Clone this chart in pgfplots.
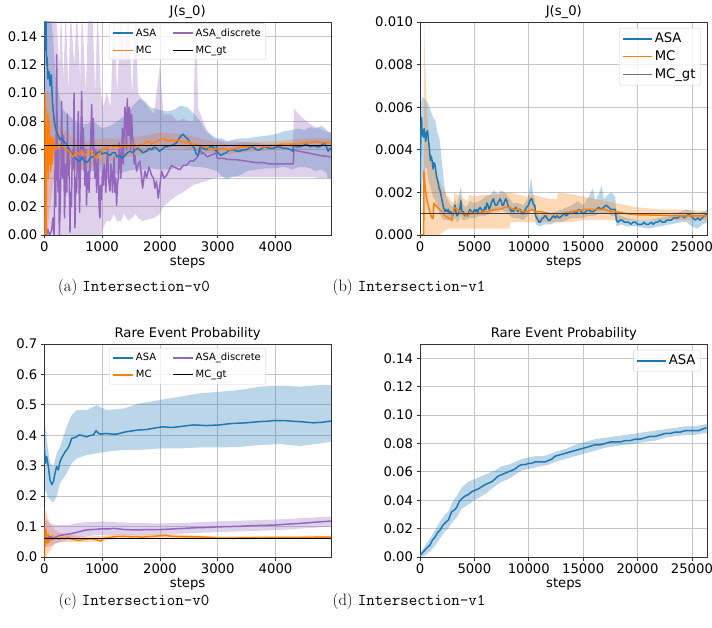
\documentclass[border=0pt]{standalone}
\usepackage{fontspec}
\usepackage{pgfplots}
\pgfplotsset{compat=1.18}
\usepackage{pgfplotstable}
\usepgfplotslibrary{fillbetween}
\newfontfamily\dejavu{DejaVu Sans}
\definecolor{mplblue}{HTML}{1F77B4}
\definecolor{mplorange}{HTML}{FF7F0E}
\definecolor{mplpurple}{HTML}{9467BD}
\newcommand{\tickfont}{\dejavu\fontsize{13.2}{15}\selectfont}
\newcommand{\legS}{\dejavu\fontsize{10}{12}\selectfont}
\newcommand{\legL}{\dejavu\fontsize{13.2}{15}\selectfont}

% ---------- (a) J(s_0), Intersection-v0 ----------
\pgfplotstableread[row sep=\\]{x y\\
0 0.16\\ 10 0.145\\ 20 0.13\\ 30 0.15\\ 40 0.12\\ 50 0.125\\ 60 0.11\\ 80 0.115\\ 100 0.105\\ 120 0.113\\ 140 0.095\\ 160 0.085\\ 180 0.078\\ 200 0.074\\ 230 0.071\\ 271 0.067\\ 300 0.068\\ 358 0.065\\ 400 0.063\\ 444 0.059\\ 502 0.056\\ 540 0.054\\ 560 0.053\\ 617 0.052\\ 650 0.055\\ 675 0.053\\ 733 0.051\\ 760 0.052\\ 790 0.054\\ 830 0.055\\ 877 0.056\\ 920 0.058\\ 963 0.059\\ 1000 0.057\\ 1050 0.058\\ 1100 0.057\\ 1136 0.056\\ 1180 0.058\\ 1222 0.058\\ 1260 0.055\\ 1300 0.056\\ 1350 0.054\\ 1395 0.056\\ 1440 0.058\\ 1482 0.059\\ 1530 0.058\\ 1568 0.060\\ 1610 0.061\\ 1655 0.060\\ 1700 0.058\\ 1770 0.059\\ 1810 0.061\\ 1857 0.060\\ 1900 0.062\\ 1943 0.061\\ 1990 0.059\\ 2030 0.060\\ 2080 0.062\\ 2116 0.062\\ 2170 0.063\\ 2200 0.063\\ 2250 0.064\\ 2289 0.065\\ 2330 0.068\\ 2370 0.070\\ 2404 0.071\\ 2440 0.069\\ 2480 0.068\\ 2519 0.065\\ 2560 0.063\\ 2600 0.061\\ 2630 0.057\\ 2663 0.056\\ 2700 0.063\\ 2750 0.061\\ 2807 0.060\\ 2860 0.062\\ 2920 0.062\\ 2970 0.059\\ 2980 0.063\\ 3000 0.058\\ 3050 0.056\\ 3096 0.057\\ 3153 0.058\\ 3200 0.060\\ 3270 0.060\\ 3326 0.059\\ 3384 0.059\\ 3440 0.060\\ 3499 0.060\\ 3560 0.062\\ 3614 0.062\\ 3670 0.060\\ 3730 0.060\\ 3800 0.062\\ 3845 0.062\\ 3900 0.061\\ 3960 0.061\\ 4020 0.062\\ 4075 0.062\\ 4140 0.061\\ 4200 0.061\\ 4260 0.060\\ 4306 0.059\\ 4310 0.063\\ 4370 0.062\\ 4420 0.062\\ 4480 0.063\\ 4540 0.064\\ 4600 0.062\\ 4660 0.063\\ 4720 0.062\\ 4768 0.062\\ 4820 0.064\\ 4850 0.065\\ 4880 0.062\\ 4910 0.059\\ 4940 0.061\\ 4960 0.060\\
}\aASA
\pgfplotstableread[row sep=\\]{x lo hi\\
0 0.09 0.16\\ 50 0.08 0.16\\ 100 0.07 0.16\\ 150 0.06 0.14\\ 200 0.055 0.11\\ 300 0.052 0.09\\ 400 0.050 0.085\\ 540 0.048 0.080\\ 700 0.045 0.078\\ 850 0.045 0.080\\ 1000 0.045 0.075\\ 1150 0.044 0.077\\ 1260 0.043 0.080\\ 1430 0.045 0.085\\ 1550 0.046 0.092\\ 1660 0.046 0.096\\ 1750 0.046 0.094\\ 1830 0.047 0.090\\ 2000 0.046 0.088\\ 2120 0.046 0.087\\ 2240 0.047 0.088\\ 2350 0.048 0.091\\ 2470 0.049 0.090\\ 2600 0.048 0.085\\ 2700 0.048 0.080\\ 2820 0.047 0.072\\ 2990 0.045 0.068\\ 3080 0.041 0.068\\ 3160 0.039 0.066\\ 3250 0.041 0.067\\ 3390 0.042 0.068\\ 3500 0.045 0.068\\ 3650 0.046 0.069\\ 3860 0.047 0.070\\ 4000 0.047 0.071\\ 4150 0.048 0.073\\ 4300 0.046 0.074\\ 4390 0.048 0.075\\ 4500 0.048 0.074\\ 4600 0.047 0.076\\ 4690 0.045 0.075\\ 4800 0.046 0.077\\ 4880 0.044 0.074\\ 4900 0.040 0.073\\ 4960 0.040 0.072\\
}\aASAband
\pgfplotstableread[row sep=\\]{x y\\
0 0.0\\ 8 0.10\\ 16 0.03\\ 24 0.09\\ 32 0.0\\ 40 0.075\\ 50 0.045\\ 60 0.085\\ 70 0.04\\ 80 0.08\\ 90 0.05\\ 100 0.07\\ 110 0.045\\ 125 0.068\\ 140 0.05\\ 160 0.068\\ 180 0.062\\ 200 0.060\\ 250 0.064\\ 300 0.063\\ 350 0.061\\ 400 0.060\\ 450 0.058\\ 500 0.055\\ 550 0.058\\ 600 0.057\\ 650 0.059\\ 700 0.056\\ 750 0.058\\ 800 0.059\\ 850 0.057\\ 900 0.054\\ 950 0.057\\ 1000 0.060\\ 1050 0.061\\ 1100 0.062\\ 1150 0.063\\ 1200 0.062\\ 1250 0.063\\ 1300 0.061\\ 1350 0.063\\ 1400 0.064\\ 1450 0.062\\ 1500 0.063\\ 1550 0.064\\ 1600 0.062\\ 1650 0.064\\ 1700 0.063\\ 1750 0.065\\ 1800 0.066\\ 1850 0.064\\ 1900 0.065\\ 1950 0.066\\ 2000 0.067\\ 2050 0.068\\ 2100 0.067\\ 2150 0.066\\ 2200 0.067\\ 2250 0.066\\ 2300 0.067\\ 2350 0.066\\ 2400 0.066\\ 2450 0.065\\ 2500 0.066\\ 2550 0.064\\ 2600 0.064\\ 2700 0.063\\ 2800 0.062\\ 2900 0.060\\ 3000 0.061\\ 3100 0.061\\ 3200 0.060\\ 3300 0.061\\ 3400 0.062\\ 3500 0.062\\ 3600 0.063\\ 3700 0.063\\ 3800 0.062\\ 3900 0.063\\ 4000 0.063\\ 4100 0.064\\ 4200 0.064\\ 4300 0.064\\ 4400 0.064\\ 4500 0.065\\ 4600 0.065\\ 4700 0.066\\ 4800 0.065\\ 4900 0.065\\ 4960 0.065\\
}\aMC
\pgfplotstableread[row sep=\\]{x lo hi\\
0 0.0 0.10\\ 50 0.0 0.10\\ 100 0.02 0.10\\ 150 0.035 0.09\\ 200 0.045 0.078\\ 300 0.048 0.075\\ 400 0.047 0.072\\ 500 0.045 0.068\\ 700 0.046 0.066\\ 1000 0.050 0.068\\ 1300 0.054 0.068\\ 1600 0.056 0.069\\ 2000 0.061 0.072\\ 2400 0.061 0.071\\ 2800 0.058 0.067\\ 3200 0.057 0.064\\ 3600 0.059 0.066\\ 4000 0.060 0.066\\ 4500 0.061 0.068\\ 4960 0.062 0.068\\
}\aMCband
\pgfplotstableread[row sep=\\]{x y\\
0 0.0\\ 12 0.002\\ 40 0.0\\ 60 0.004\\ 90 0.0\\ 127 0.003\\ 150 0.012\\ 170 0.0\\ 190 0.06\\ 200 0.02\\ 214 0.127\\ 225 0.05\\ 240 0.03\\ 250 0.06\\ 260 0.0\\ 275 0.02\\ 290 0.05\\ 300 0.094\\ 310 0.06\\ 320 0.04\\ 335 0.07\\ 350 0.012\\ 370 0.05\\ 390 0.03\\ 400 0.085\\ 410 0.042\\ 425 0.06\\ 444 0.002\\ 455 0.03\\ 470 0.02\\ 485 0.06\\ 502 0.047\\ 515 0.10\\ 530 0.005\\ 545 0.04\\ 560 0.03\\ 575 0.065\\ 588 0.087\\ 600 0.04\\ 610 0.016\\ 630 0.06\\ 646 0.101\\ 660 0.06\\ 675 0.075\\ 690 0.05\\ 704 0.035\\ 718 0.06\\ 730 0.021\\ 745 0.04\\ 760 0.045\\ 775 0.03\\ 790 0.049\\ 805 0.07\\ 820 0.092\\ 835 0.06\\ 848 0.082\\ 862 0.05\\ 877 0.040\\ 890 0.06\\ 905 0.030\\ 920 0.045\\ 934 0.054\\ 948 0.02\\ 963 0.012\\ 976 0.035\\ 990 0.025\\ 1005 0.045\\ 1021 0.035\\ 1035 0.05\\ 1050 0.044\\ 1064 0.03\\ 1078 0.049\\ 1095 0.06\\ 1110 0.04\\ 1136 0.031\\ 1150 0.05\\ 1165 0.045\\ 1180 0.03\\ 1194 0.042\\ 1208 0.055\\ 1222 0.030\\ 1236 0.04\\ 1251 0.021\\ 1265 0.035\\ 1280 0.040\\ 1295 0.065\\ 1309 0.059\\ 1323 0.04\\ 1338 0.052\\ 1352 0.075\\ 1366 0.05\\ 1380 0.070\\ 1395 0.09\\ 1410 0.080\\ 1423 0.06\\ 1436 0.096\\ 1448 0.075\\ 1460 0.070\\ 1471 0.09\\ 1482 0.082\\ 1496 0.06\\ 1510 0.085\\ 1525 0.07\\ 1540 0.065\\ 1554 0.05\\ 1568 0.056\\ 1597 0.045\\ 1625 0.050\\ 1655 0.052\\ 1700 0.033\\ 1740 0.045\\ 1770 0.040\\ 1810 0.048\\ 1857 0.042\\ 1890 0.040\\ 1914 0.033\\ 1940 0.038\\ 1971 0.026\\ 2000 0.035\\ 2030 0.045\\ 2070 0.040\\ 2116 0.042\\ 2200 0.049\\ 2289 0.047\\ 2346 0.046\\ 2404 0.049\\ 2461 0.049\\ 2519 0.052\\ 2577 0.052\\ 2630 0.054\\ 2663 0.056\\ 2692 0.062\\ 2720 0.057\\ 2750 0.058\\ 2820 0.055\\ 2865 0.056\\ 2940 0.057\\ 2980 0.058\\ 2990 0.054\\ 3096 0.054\\ 3200 0.053\\ 3326 0.053\\ 3499 0.052\\ 3650 0.051\\ 3787 0.051\\ 3900 0.050\\ 4075 0.050\\ 4200 0.050\\ 4306 0.050\\ 4318 0.060\\ 4400 0.059\\ 4537 0.058\\ 4650 0.057\\ 4768 0.056\\ 4960 0.055\\
}\aDis
\pgfplotstableread[row sep=\\]{x lo hi\\
0 0.0 0.16\\ 200 0.0 0.16\\ 260 0.0 0.12\\ 290 0.0 0.16\\ 330 0.0 0.11\\ 370 0.0 0.16\\ 420 0.0 0.10\\ 450 0.0 0.16\\ 520 0.0 0.12\\ 560 0.0 0.16\\ 620 0.0 0.11\\ 650 0.0 0.16\\ 720 0.0 0.10\\ 760 0.0 0.16\\ 830 0.0 0.16\\ 880 0.0 0.10\\ 920 0.0 0.16\\ 980 0.0 0.10\\ 1020 0.005 0.09\\ 1080 0.01 0.10\\ 1150 0.01 0.09\\ 1200 0.015 0.16\\ 1260 0.01 0.10\\ 1330 0.01 0.16\\ 1380 0.015 0.12\\ 1450 0.01 0.16\\ 1520 0.012 0.10\\ 1580 0.015 0.16\\ 1620 0.012 0.10\\ 1700 0.01 0.095\\ 1800 0.011 0.09\\ 1900 0.012 0.085\\ 2000 0.015 0.12\\ 2060 0.02 0.085\\ 2200 0.025 0.085\\ 2300 0.028 0.08\\ 2400 0.03 0.082\\ 2500 0.033 0.08\\ 2580 0.035 0.08\\ 2620 0.036 0.16\\ 2660 0.036 0.09\\ 2700 0.037 0.085\\ 2800 0.038 0.075\\ 2930 0.04 0.068\\ 3100 0.041 0.066\\ 3300 0.041 0.066\\ 3600 0.041 0.065\\ 3900 0.041 0.064\\ 4200 0.041 0.064\\ 4300 0.041 0.065\\ 4320 0.041 0.089\\ 4450 0.041 0.083\\ 4600 0.041 0.078\\ 4800 0.040 0.074\\ 4960 0.040 0.072\\
}\aDisband

% ---------- (b) J(s_0), Intersection-v1 ----------
\pgfplotstableread[row sep=\\]{x y\\
0 0.0024\\ 100 0.0052\\ 150 0.0055\\ 200 0.0047\\ 215 0.0049\\ 300 0.0046\\ 380 0.0050\\ 450 0.0047\\ 522 0.0044\\ 600 0.0048\\ 700 0.0049\\ 760 0.0045\\ 829 0.0042\\ 900 0.0038\\ 960 0.0035\\ 1020 0.0037\\ 1075 0.0036\\ 1140 0.0034\\ 1200 0.0031\\ 1280 0.0034\\ 1381 0.0033\\ 1450 0.0030\\ 1530 0.0027\\ 1600 0.0026\\ 1688 0.0024\\ 1750 0.0022\\ 1840 0.0021\\ 1920 0.0019\\ 1995 0.0017\\ 2080 0.0015\\ 2150 0.0013\\ 2230 0.0012\\ 2302 0.0011\\ 2400 0.0012\\ 2500 0.0011\\ 2610 0.0012\\ 2700 0.0010\\ 2800 0.0011\\ 2916 0.0010\\ 3000 0.0009\\ 3100 0.0011\\ 3220 0.0014\\ 3300 0.0011\\ 3400 0.0009\\ 3530 0.0010\\ 3650 0.0012\\ 3760 0.0016\\ 3820 0.0012\\ 3900 0.0010\\ 4000 0.0011\\ 4100 0.0009\\ 4200 0.0010\\ 4297 0.0010\\ 4400 0.0009\\ 4500 0.0011\\ 4604 0.0012\\ 4700 0.0011\\ 4800 0.0010\\ 4910 0.0011\\ 5000 0.0012\\ 5100 0.0011\\ 5217 0.0012\\ 5300 0.0010\\ 5400 0.0012\\ 5525 0.0013\\ 5650 0.0012\\ 5750 0.0011\\ 5831 0.0011\\ 5950 0.0013\\ 6050 0.0012\\ 6138 0.0015\\ 6250 0.0014\\ 6350 0.0012\\ 6445 0.0013\\ 6550 0.0015\\ 6650 0.0016\\ 6752 0.0017\\ 6850 0.0015\\ 6950 0.0014\\ 7059 0.0014\\ 7150 0.0015\\ 7250 0.0016\\ 7366 0.0017\\ 7450 0.0016\\ 7560 0.0014\\ 7673 0.0014\\ 7780 0.0016\\ 7880 0.0017\\ 7980 0.0016\\ 8080 0.0014\\ 8200 0.0013\\ 8287 0.0012\\ 8400 0.0011\\ 8500 0.0012\\ 8594 0.0011\\ 8700 0.0012\\ 8800 0.0013\\ 8900 0.0012\\ 9000 0.0011\\ 9100 0.0012\\ 9207 0.0012\\ 9300 0.0011\\ 9400 0.0010\\ 9514 0.0010\\ 9620 0.0011\\ 9700 0.0012\\ 9800 0.0013\\ 9975 0.0014\\ 10100 0.0016\\ 10200 0.0017\\ 10282 0.0017\\ 10380 0.0015\\ 10480 0.0014\\ 10560 0.0014\\ 10620 0.0009\\ 10742 0.0008\\ 10850 0.0007\\ 10940 0.0006\\ 11049 0.0006\\ 11150 0.0007\\ 11250 0.0008\\ 11356 0.0008\\ 11450 0.0009\\ 11550 0.0009\\ 11662 0.0008\\ 11800 0.0007\\ 11969 0.0007\\ 12100 0.0008\\ 12277 0.0009\\ 12431 0.0008\\ 12600 0.0009\\ 12800 0.0008\\ 13045 0.0009\\ 13250 0.0010\\ 13450 0.0009\\ 13659 0.0010\\ 13900 0.0011\\ 14119 0.0011\\ 14350 0.0010\\ 14579 0.0012\\ 14800 0.0011\\ 15040 0.0010\\ 15250 0.0011\\ 15500 0.0012\\ 15700 0.0011\\ 15960 0.0011\\ 16200 0.0012\\ 16421 0.0013\\ 16650 0.0012\\ 16881 0.0013\\ 17100 0.0014\\ 17341 0.0013\\ 17550 0.0012\\ 17802 0.0012\\ 17950 0.0012\\ 18050 0.0007\\ 18200 0.0006\\ 18400 0.0007\\ 18569 0.0007\\ 18800 0.0006\\ 19000 0.0006\\ 19183 0.0006\\ 19400 0.0005\\ 19600 0.0006\\ 19797 0.0006\\ 20000 0.0005\\ 20200 0.0005\\ 20410 0.0005\\ 20600 0.0006\\ 20800 0.0005\\ 21024 0.0005\\ 21250 0.0006\\ 21450 0.0005\\ 21638 0.0006\\ 21850 0.0006\\ 22050 0.0007\\ 22252 0.0006\\ 22500 0.0006\\ 22700 0.0007\\ 22866 0.0007\\ 23100 0.0007\\ 23300 0.0008\\ 23480 0.0008\\ 23700 0.0008\\ 23900 0.0009\\ 24093 0.0009\\ 24300 0.0008\\ 24500 0.0009\\ 24707 0.0010\\ 24900 0.0009\\ 25100 0.0008\\ 25321 0.0007\\ 25550 0.0008\\ 25750 0.0007\\ 25935 0.0008\\ 26150 0.0009\\ 26395 0.0010\\
}\bASA
\pgfplotstableread[row sep=\\]{x lo hi\\
0 0.0012 0.0030\\ 100 0.0015 0.0062\\ 200 0.0025 0.0065\\ 400 0.0030 0.0064\\ 600 0.0032 0.0063\\ 800 0.0025 0.0061\\ 1000 0.0022 0.0058\\ 1200 0.0018 0.0055\\ 1400 0.0016 0.0054\\ 1600 0.0013 0.0048\\ 1800 0.0010 0.0045\\ 2000 0.0008 0.0035\\ 2200 0.0007 0.0025\\ 2400 0.0007 0.0018\\ 2700 0.0007 0.0015\\ 3000 0.0006 0.0013\\ 3200 0.0008 0.0017\\ 3400 0.0006 0.0014\\ 3600 0.0007 0.0019\\ 3760 0.0009 0.0023\\ 3900 0.0007 0.0015\\ 4200 0.0007 0.0013\\ 4600 0.0008 0.0016\\ 5000 0.0008 0.0015\\ 5500 0.0009 0.0016\\ 6000 0.0009 0.0018\\ 6500 0.0010 0.0019\\ 6800 0.0011 0.0021\\ 7200 0.0011 0.0019\\ 7400 0.0012 0.0021\\ 7800 0.0011 0.0020\\ 8100 0.0010 0.0018\\ 8500 0.0008 0.0015\\ 9000 0.0008 0.0015\\ 9500 0.0007 0.0014\\ 9900 0.0009 0.0017\\ 10100 0.0011 0.0023\\ 10250 0.0012 0.0027\\ 10400 0.0011 0.0019\\ 10550 0.0010 0.0017\\ 10650 0.0005 0.0012\\ 11000 0.0004 0.0009\\ 11500 0.0005 0.0011\\ 12000 0.0005 0.0010\\ 12500 0.0006 0.0011\\ 13000 0.0006 0.0012\\ 13500 0.0007 0.0013\\ 14000 0.0008 0.0014\\ 14500 0.0008 0.0016\\ 15000 0.0008 0.0014\\ 15500 0.0009 0.0018\\ 15900 0.0009 0.0022\\ 16100 0.0009 0.0016\\ 16400 0.0010 0.0019\\ 16700 0.0010 0.0023\\ 16900 0.0010 0.0017\\ 17300 0.0010 0.0019\\ 17600 0.0009 0.0020\\ 17950 0.0009 0.0018\\ 18050 0.0004 0.0010\\ 18500 0.0005 0.0009\\ 19000 0.0004 0.0008\\ 20000 0.0004 0.0007\\ 21000 0.0003 0.0007\\ 22000 0.0004 0.0008\\ 23000 0.0005 0.0009\\ 24000 0.0006 0.0011\\ 24500 0.0006 0.0012\\ 25000 0.0004 0.0011\\ 25500 0.0003 0.0010\\ 26000 0.0005 0.0011\\ 26450 0.0006 0.0012\\
}\bASAband
\pgfplotstableread[row sep=\\]{x y\\
0 0.0\\ 340 0.0\\ 360 0.0030\\ 450 0.0024\\ 550 0.0019\\ 650 0.0016\\ 800 0.0013\\ 950 0.0010\\ 1100 0.0008\\ 1200 0.00078\\ 1280 0.0015\\ 1400 0.0014\\ 1600 0.0013\\ 1800 0.0012\\ 2000 0.0011\\ 2300 0.0009\\ 2600 0.0008\\ 2900 0.0007\\ 3150 0.0013\\ 3400 0.0012\\ 3700 0.0011\\ 4000 0.0010\\ 4300 0.0009\\ 4500 0.00095\\ 4600 0.0011\\ 4800 0.0010\\ 5200 0.0010\\ 5800 0.0011\\ 6300 0.0011\\ 6800 0.0012\\ 7300 0.0012\\ 7800 0.0013\\ 8200 0.0013\\ 8600 0.0012\\ 9000 0.0012\\ 9500 0.0011\\ 10000 0.0011\\ 10300 0.0012\\ 10600 0.0011\\ 11000 0.0011\\ 12000 0.0010\\ 13000 0.0010\\ 14000 0.0011\\ 15000 0.0012\\ 16000 0.0012\\ 17000 0.0012\\ 17500 0.0011\\ 18000 0.0011\\ 19000 0.0010\\ 20000 0.00095\\ 22000 0.00093\\ 24000 0.0009\\ 26450 0.0009\\
}\bMC
\pgfplotstableread[row sep=\\]{x lo hi\\
0 0.0 0.0\\ 340 0.0 0.0\\ 360 0.0 0.0102\\ 450 0.0 0.0085\\ 550 0.0 0.0070\\ 650 0.0 0.0058\\ 800 0.0 0.0047\\ 950 0.0 0.0040\\ 1100 0.0 0.0035\\ 1280 0.0 0.0034\\ 1400 0.0 0.0031\\ 1600 0.0 0.0028\\ 1800 0.0 0.0025\\ 2000 0.0001 0.0023\\ 2300 0.0002 0.0020\\ 2600 0.0003 0.0018\\ 2900 0.0003 0.0016\\ 3100 0.0003 0.0015\\ 3150 0.0003 0.0020\\ 3400 0.0003 0.0019\\ 3700 0.0003 0.0018\\ 4000 0.0003 0.0017\\ 4400 0.0003 0.0016\\ 4550 0.0003 0.0019\\ 5000 0.0003 0.0018\\ 6000 0.0003 0.0019\\ 7000 0.0003 0.0019\\ 8200 0.0003 0.0020\\ 8300 0.0006 0.0020\\ 9000 0.0006 0.0019\\ 10000 0.0006 0.0018\\ 10300 0.0006 0.0019\\ 11000 0.0006 0.0018\\ 12000 0.0006 0.0017\\ 12600 0.0006 0.0017\\ 12700 0.0006 0.0020\\ 14000 0.0006 0.0019\\ 15000 0.0007 0.0018\\ 16000 0.0007 0.0017\\ 17000 0.0007 0.0016\\ 18000 0.0007 0.0015\\ 19000 0.0007 0.0014\\ 20000 0.0007 0.0013\\ 22000 0.0007 0.0012\\ 24000 0.0007 0.0012\\ 26450 0.0007 0.0011\\
}\bMCband

% ---------- (c) rare event probability, Intersection-v0 ----------
\pgfplotstableread[row sep=\\]{x y\\
0 0.362\\ 17 0.308\\ 41 0.330\\ 70 0.297\\ 99 0.253\\ 128 0.238\\ 156 0.247\\ 185 0.275\\ 214 0.297\\ 243 0.286\\ 271 0.313\\ 300 0.326\\ 329 0.335\\ 358 0.345\\ 387 0.352\\ 415 0.360\\ 444 0.373\\ 473 0.390\\ 520 0.392\\ 560 0.395\\ 590 0.400\\ 617 0.401\\ 680 0.398\\ 733 0.395\\ 790 0.399\\ 848 0.401\\ 894 0.415\\ 930 0.408\\ 963 0.404\\ 1020 0.405\\ 1078 0.406\\ 1160 0.404\\ 1251 0.404\\ 1340 0.408\\ 1424 0.412\\ 1510 0.414\\ 1597 0.417\\ 1680 0.418\\ 1770 0.419\\ 1860 0.422\\ 1943 0.425\\ 2058 0.428\\ 2150 0.426\\ 2231 0.426\\ 2320 0.428\\ 2404 0.430\\ 2490 0.432\\ 2577 0.434\\ 2700 0.433\\ 2807 0.432\\ 2920 0.433\\ 3038 0.434\\ 3150 0.437\\ 3268 0.439\\ 3380 0.440\\ 3499 0.441\\ 3610 0.443\\ 3729 0.445\\ 3850 0.446\\ 3960 0.448\\ 4075 0.448\\ 4190 0.448\\ 4300 0.446\\ 4421 0.445\\ 4540 0.443\\ 4651 0.441\\ 4740 0.442\\ 4824 0.443\\ 4957 0.447\\
}\cASA
\pgfplotstableread[row sep=\\]{x lo hi\\
0 0.20 0.45\\ 20 0.22 0.43\\ 60 0.20 0.36\\ 99 0.187 0.31\\ 156 0.18 0.297\\ 214 0.198 0.34\\ 271 0.242 0.362\\ 387 0.275 0.428\\ 473 0.308 0.466\\ 560 0.324 0.483\\ 733 0.335 0.483\\ 906 0.341 0.499\\ 1078 0.346 0.483\\ 1367 0.352 0.488\\ 1655 0.352 0.505\\ 2001 0.357 0.516\\ 2346 0.357 0.527\\ 2692 0.360 0.538\\ 3038 0.360 0.543\\ 3384 0.362 0.549\\ 3729 0.368 0.560\\ 4075 0.371 0.563\\ 4421 0.365 0.560\\ 4767 0.373 0.565\\ 4960 0.379 0.565\\
}\cASAband
\pgfplotstableread[row sep=\\]{x y\\
0 0.0\\ 10 0.10\\ 20 0.04\\ 30 0.09\\ 40 0.05\\ 50 0.07\\ 60 0.045\\ 70 0.075\\ 80 0.05\\ 100 0.065\\ 120 0.055\\ 140 0.07\\ 160 0.06\\ 200 0.066\\ 250 0.058\\ 300 0.063\\ 350 0.060\\ 400 0.065\\ 450 0.060\\ 500 0.058\\ 550 0.056\\ 600 0.055\\ 700 0.058\\ 800 0.060\\ 900 0.057\\ 980 0.052\\ 1000 0.060\\ 1100 0.063\\ 1200 0.066\\ 1300 0.068\\ 1400 0.068\\ 1500 0.066\\ 1600 0.067\\ 1700 0.065\\ 1800 0.067\\ 1900 0.068\\ 2000 0.070\\ 2100 0.071\\ 2200 0.068\\ 2300 0.067\\ 2500 0.066\\ 2700 0.066\\ 2900 0.064\\ 3000 0.062\\ 3200 0.062\\ 3500 0.063\\ 3800 0.063\\ 4100 0.064\\ 4400 0.064\\ 4700 0.065\\ 4960 0.065\\
}\cMC
\pgfplotstableread[row sep=\\]{x lo hi\\
0 0.0 0.16\\ 30 0.0 0.15\\ 60 0.01 0.13\\ 100 0.02 0.11\\ 150 0.035 0.10\\ 200 0.045 0.085\\ 300 0.050 0.078\\ 400 0.050 0.075\\ 600 0.048 0.068\\ 800 0.050 0.068\\ 1000 0.052 0.070\\ 1200 0.058 0.074\\ 1600 0.060 0.074\\ 2000 0.063 0.077\\ 2500 0.061 0.072\\ 3000 0.058 0.067\\ 3500 0.058 0.068\\ 4000 0.059 0.069\\ 4500 0.060 0.069\\ 4960 0.060 0.070\\
}\cMCband
\pgfplotstableread[row sep=\\]{x y\\
0 0.065\\ 50 0.060\\ 100 0.068\\ 150 0.058\\ 200 0.065\\ 250 0.070\\ 300 0.072\\ 400 0.075\\ 500 0.078\\ 600 0.083\\ 700 0.088\\ 800 0.090\\ 900 0.091\\ 1000 0.093\\ 1100 0.092\\ 1200 0.094\\ 1400 0.090\\ 1600 0.089\\ 1800 0.090\\ 2000 0.090\\ 2200 0.092\\ 2400 0.094\\ 2600 0.096\\ 2800 0.097\\ 3000 0.099\\ 3200 0.100\\ 3400 0.101\\ 3600 0.103\\ 3800 0.104\\ 4000 0.105\\ 4200 0.108\\ 4400 0.110\\ 4600 0.113\\ 4800 0.116\\ 4960 0.118\\
}\cDis
\pgfplotstableread[row sep=\\]{x lo hi\\
0 0.03 0.13\\ 100 0.035 0.11\\ 200 0.045 0.105\\ 400 0.055 0.105\\ 600 0.063 0.112\\ 800 0.070 0.115\\ 1000 0.073 0.117\\ 1500 0.073 0.112\\ 2000 0.074 0.110\\ 2500 0.078 0.113\\ 3000 0.082 0.117\\ 3500 0.085 0.120\\ 4000 0.088 0.123\\ 4500 0.094 0.128\\ 4960 0.100 0.133\\
}\cDisband

% ---------- (d) rare event probability, Intersection-v1 ----------
\pgfplotstableread[row sep=\\]{x y\\
0 0.001\\ 460 0.005\\ 921 0.0085\\ 1150 0.012\\ 1381 0.014\\ 1600 0.017\\ 1842 0.019\\ 2070 0.022\\ 2302 0.024\\ 2609 0.026\\ 2916 0.032\\ 3150 0.033\\ 3376 0.035\\ 3600 0.039\\ 3837 0.041\\ 4150 0.043\\ 4450 0.044\\ 4750 0.046\\ 5064 0.047\\ 5370 0.048\\ 5678 0.0495\\ 5990 0.051\\ 6292 0.052\\ 6600 0.053\\ 6906 0.055\\ 7200 0.057\\ 7519 0.058\\ 7830 0.059\\ 8133 0.060\\ 8440 0.061\\ 8747 0.062\\ 9050 0.064\\ 9361 0.065\\ 9670 0.065\\ 9975 0.066\\ 10280 0.066\\ 10588 0.067\\ 10900 0.067\\ 11202 0.067\\ 11500 0.067\\ 11816 0.068\\ 12120 0.069\\ 12430 0.071\\ 12890 0.072\\ 13351 0.073\\ 13810 0.074\\ 14271 0.075\\ 14730 0.076\\ 15192 0.077\\ 15650 0.078\\ 16113 0.079\\ 16570 0.079\\ 17033 0.080\\ 17490 0.081\\ 17954 0.081\\ 18410 0.081\\ 18875 0.082\\ 19330 0.082\\ 19795 0.083\\ 20250 0.083\\ 20716 0.084\\ 21170 0.085\\ 21637 0.085\\ 22100 0.086\\ 22558 0.087\\ 23020 0.087\\ 23478 0.088\\ 23940 0.088\\ 24399 0.089\\ 24860 0.089\\ 25320 0.089\\ 25620 0.089\\ 25933 0.090\\ 26332 0.091\\
}\dASA
\pgfplotstableread[row sep=\\]{x lo hi\\
0 0.0 0.002\\ 460 0.001 0.008\\ 921 0.004 0.013\\ 1381 0.008 0.019\\ 1842 0.013 0.025\\ 2302 0.018 0.030\\ 2609 0.020 0.032\\ 2916 0.024 0.038\\ 3376 0.028 0.043\\ 3837 0.034 0.049\\ 4450 0.037 0.053\\ 5064 0.040 0.055\\ 5678 0.043 0.057\\ 6292 0.046 0.059\\ 6906 0.050 0.061\\ 7519 0.053 0.064\\ 8133 0.055 0.065\\ 8747 0.058 0.067\\ 9361 0.061 0.069\\ 9975 0.062 0.070\\ 10588 0.063 0.071\\ 11202 0.064 0.071\\ 11816 0.065 0.072\\ 12430 0.067 0.074\\ 13351 0.069 0.076\\ 14271 0.071 0.079\\ 15192 0.073 0.081\\ 16113 0.075 0.083\\ 17033 0.077 0.084\\ 17954 0.078 0.085\\ 18875 0.079 0.086\\ 19795 0.080 0.087\\ 20716 0.081 0.088\\ 21637 0.082 0.089\\ 22558 0.084 0.090\\ 23478 0.085 0.091\\ 24399 0.086 0.092\\ 25320 0.086 0.092\\ 25933 0.087 0.093\\ 26450 0.087 0.094\\
}\dASAband

% shaded band between the lo and hi columns of a table
\newcommand{\band}[3]{%
  \addplot[name path=#3h, draw=none, forget plot] table[x=x,y=hi]{#1};
  \addplot[name path=#3l, draw=none, forget plot] table[x=x,y=lo]{#1};
  \addplot[fill=#2, fill opacity=0.3, draw=none, forget plot] fill between[of=#3h and #3l];
}

\tikzset{capt/.style={anchor=base, inner sep=0pt, font=\fontsize{16.5}{20}\selectfont}}

\pgfplotsset{
  mpl/.style={
    scale only axis, anchor=south west,
    axis line style={black!80, line width=0.8pt},
    tick pos=left, tick align=outside, major tick length=3.5pt,
    tick style={black!80, line width=0.8pt},
    grid=major, major grid style={gray!45, line width=0.8pt},
    scaled ticks=false,
    /pgf/number format/assume math mode=true,
    tick label style={font=\tickfont},
    xticklabel style={/pgf/number format/.cd, fixed, precision=0, set thousands separator={}},
    xlabel={steps}, xlabel style={font=\tickfont, yshift=0.5pt, inner sep=1pt},
    title style={font=\tickfont, yshift=-6pt},
    legend cell align=left,
    every axis plot/.append style={line join=round},
  },
  smallleg/.style={
    legend style={at={(0.5,1)}, anchor=north, font=\legS, draw=gray!35,
      rounded corners=2pt, fill=white, fill opacity=0.8, text opacity=1,
      inner sep=3pt, row sep=4pt,
      /tikz/every even column/.append style={column sep=14pt}},
    legend columns=2,
    legend image code/.code={\draw[##1] (0pt,0pt) -- (20pt,0pt);},
  },
  bigleg/.style={
    legend style={at={(1,1)}, anchor=north east, font=\legL, draw=gray!35,
      rounded corners=2pt, fill=white, fill opacity=0.8, text opacity=1,
      inner sep=3pt, row sep=2.5pt},
    legend image code/.code={\draw[##1] (0pt,0pt) -- (29pt,0pt);},
  },
}

\begin{document}
\begin{tikzpicture}

% (a)
\begin{axis}[mpl, smallleg, at={(44.3pt,392pt)}, width=286.7pt, height=213pt,
  xmin=0, xmax=4960, ymin=0, ymax=0.15,
  xtick={0,1000,2000,3000,4000},
  ytick={0,0.02,0.04,0.06,0.08,0.10,0.12,0.14},
  yticklabel style={/pgf/number format/.cd, fixed, fixed zerofill, precision=2},
  title={J(s\_0)},
  legend style={yshift=-1.5pt}]
\band{\aASAband}{mplblue}{aa}
\band{\aMCband}{mplorange}{am}
\band{\aDisband}{mplpurple}{ad}
\addplot[mplpurple, line width=1.5pt, forget plot] table[x=x,y=y]{\aDis};
\addplot[mplblue, line width=1.5pt, forget plot] table[x=x,y=y]{\aASA};
\addplot[mplorange, line width=1.5pt, forget plot] table[x=x,y=y]{\aMC};
\addplot[black, line width=1pt, forget plot] coordinates {(0,0.063) (4960,0.063)};
\addlegendimage{mplblue, line width=1.5pt}\addlegendentry{ASA}
\addlegendimage{mplpurple, line width=1.5pt}\addlegendentry{ASA\_discrete}
\addlegendimage{mplorange, line width=1.5pt}\addlegendentry{MC}
\addlegendimage{black, line width=1pt}\addlegendentry{MC\_gt}
\end{axis}

% (b)
\begin{axis}[mpl, bigleg, at={(420pt,392pt)}, width=287.7pt, height=213pt,
  xmin=0, xmax=26450, ymin=0, ymax=0.01,
  xtick={0,5000,10000,15000,20000,25000},
  ytick={0,0.002,0.004,0.006,0.008,0.010},
  yticklabel style={/pgf/number format/.cd, fixed, fixed zerofill, precision=3},
  title={J(s\_0)},
  legend style={xshift=-7pt, yshift=-6pt}]
\band{\bASAband}{mplblue}{ba}
\band{\bMCband}{mplorange}{bm}
\addplot[mplblue, line width=1.5pt, forget plot] table[x=x,y=y]{\bASA};
\addplot[mplorange, line width=1.5pt, forget plot] table[x=x,y=y]{\bMC};
\addplot[black!75, line width=1pt, forget plot] coordinates {(0,0.001) (26450,0.001)};
\addlegendimage{mplblue, line width=1.5pt}\addlegendentry{ASA}
\addlegendimage{mplorange, line width=1.5pt}\addlegendentry{MC}
\addlegendimage{black!55, line width=1.5pt}\addlegendentry{MC\_gt}
\end{axis}

% (c)
\begin{axis}[mpl, smallleg, at={(44.3pt,70pt)}, width=286.7pt, height=213pt,
  xmin=0, xmax=4960, ymin=0, ymax=0.7,
  xtick={0,1000,2000,3000,4000},
  ytick={0,0.1,0.2,0.3,0.4,0.5,0.6,0.7},
  yticklabel style={/pgf/number format/.cd, fixed, fixed zerofill, precision=1},
  title={Rare Event Probability},
  legend style={yshift=-4pt}]
\band{\cASAband}{mplblue}{ca}
\band{\cMCband}{mplorange}{cm}
\band{\cDisband}{mplpurple}{cd}
\addplot[mplblue, line width=1.5pt, forget plot] table[x=x,y=y]{\cASA};
\addplot[mplorange, line width=1.5pt, forget plot] table[x=x,y=y]{\cMC};
\addplot[mplpurple, line width=1.5pt, forget plot] table[x=x,y=y]{\cDis};
\addplot[black, line width=1pt, forget plot] coordinates {(0,0.062) (4960,0.062)};
\addlegendimage{mplblue, line width=1.5pt}\addlegendentry{ASA}
\addlegendimage{mplpurple, line width=1.5pt}\addlegendentry{ASA\_discrete}
\addlegendimage{mplorange, line width=1.5pt}\addlegendentry{MC}
\addlegendimage{black, line width=1pt}\addlegendentry{MC\_gt}
\end{axis}

% (d)
\begin{axis}[mpl, bigleg, at={(420pt,70pt)}, width=287.7pt, height=213pt,
  xmin=0, xmax=26450, ymin=0, ymax=0.15,
  xtick={0,5000,10000,15000,20000,25000},
  ytick={0,0.02,0.04,0.06,0.08,0.10,0.12,0.14},
  yticklabel style={/pgf/number format/.cd, fixed, fixed zerofill, precision=2},
  title={Rare Event Probability},
  legend style={xshift=-7pt, yshift=-6pt}]
\band{\dASAband}{mplblue}{da}
\addplot[mplblue, line width=1.5pt, forget plot] table[x=x,y=y]{\dASA};
\addlegendimage{mplblue, line width=1.5pt}\addlegendentry{ASA}
\end{axis}

\node[capt] at (134pt,335.3pt) {(a) \texttt{Intersection-v0}};
\node[capt] at (409pt,335.3pt) {(b) \texttt{Intersection-v1}};
\node[capt] at (134pt,22pt) {(c) \texttt{Intersection-v0}};
\node[capt] at (409pt,22pt) {(d) \texttt{Intersection-v1}};

\pgfresetboundingbox
\path[use as bounding box] (0pt,0pt) rectangle (712pt,627pt);
\end{tikzpicture}
\end{document}
